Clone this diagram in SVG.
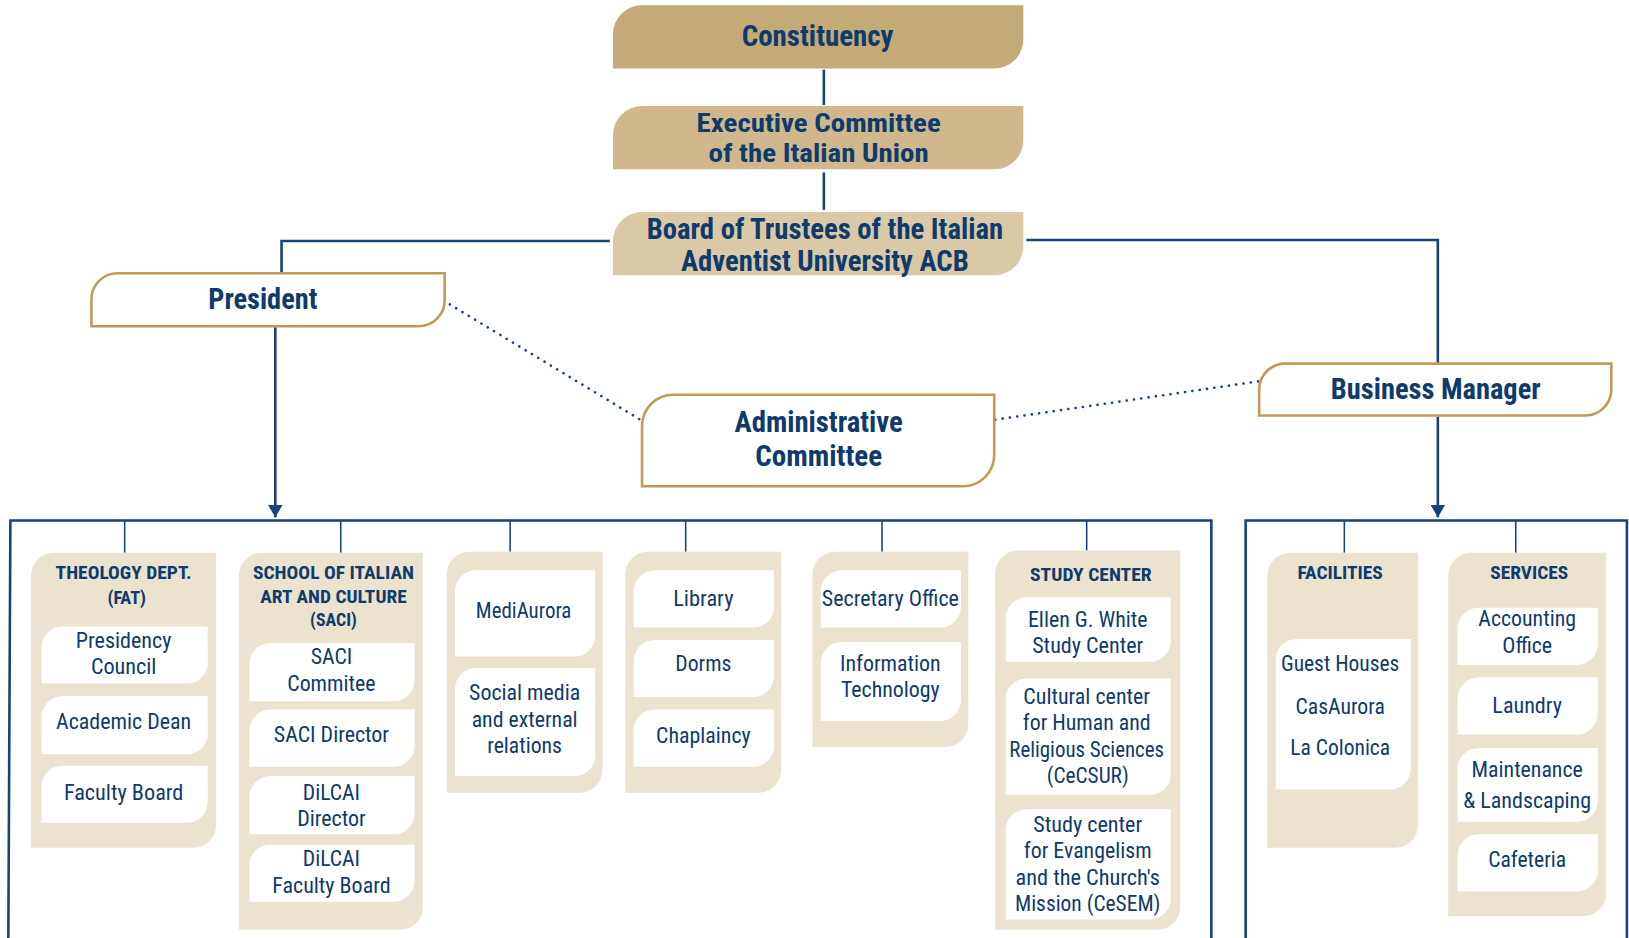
<svg xmlns="http://www.w3.org/2000/svg" width="1629" height="938" viewBox="0 0 1629 938">
<defs>
<style>
.t{font-family:"Roboto Condensed",Roboto,"DejaVu Sans Condensed",sans-serif;fill:#0f3a6c;text-anchor:middle}
.big{font-size:28px;font-weight:700}
.mid{font-size:25px;font-weight:700}
.hd{font-size:18px;font-weight:700}
.it{font-size:21px;font-weight:400}
.c1{fill:#c4aa76}.c2{fill:#cfb88b}.c3{fill:#d9c9a6}
.ob{fill:#fff;stroke:#c29a52;stroke-width:2.5}
.pn{fill:#ebe2d0}
.wb{fill:#fff}
.ln{fill:none;stroke:#17427f;stroke-width:2.5}
.tk{fill:none;stroke:#17427f;stroke-width:1.5}
.dt{fill:none;stroke:#17427f;stroke-width:2.5;stroke-dasharray:0.1 7;stroke-linecap:round}
</style>
<marker id="ar" viewBox="0 0 12 14" refX="12" refY="7" markerWidth="12" markerHeight="14" markerUnits="userSpaceOnUse" orient="auto">
<path d="M0 0 L12 7 L0 14 Z" fill="#17427f"/>
</marker>
</defs>
<rect width="1629" height="938" fill="#fff"/>
<g transform="scale(1.0389)">
<g id="connectors">
<path class="ln" d="M793 67 V101" stroke-width="3"/>
<path class="ln" d="M793 166 V202" stroke-width="3"/>
<path class="ln" d="M587 232 H271 V263"/>
<path class="ln" d="M988 231 H1384 V350"/>
<path class="ln" d="M265 315 V498" marker-end="url(#ar)"/>
<path class="ln" d="M1384 401 V498" marker-end="url(#ar)"/>
<path class="dt" d="M433 293 L618 405"/>
<path class="dt" d="M958 404 L1212 367"/>
<path class="ln" d="M8 905 L10 501 H1166 V905" stroke-width="2"/>
<path class="ln" d="M1199 905 V501 H1566 V905" stroke-width="2"/>
<path class="tk" d="M120 501 V532 M328 501 V532 M491 501 V531 M660 501 V531 M849 501 V531 M1046 501 V530 M1294 501 V532 M1459 501 V532"/>
</g>
<g id="constituency">
<path class="c1" d="M590 66 V33 A28 28 0 0 1 618 5 H985 V38 A28 28 0 0 1 957 66 Z"/>
<text class="t big" x="787" y="44" textLength="146" lengthAdjust="spacingAndGlyphs">Constituency</text>
</g>
<g id="executive-committee">
<path class="c2" d="M590 163 V130 A28 28 0 0 1 618 102 H985 V135 A28 28 0 0 1 957 163 Z"/>
<text class="t mid" x="788" y="127" textLength="235" lengthAdjust="spacingAndGlyphs">Executive Committee</text>
<text class="t mid" x="788" y="156" textLength="212" lengthAdjust="spacingAndGlyphs">of the Italian Union</text>
</g>
<g id="board">
<path class="c3" d="M590 265 V232 A28 28 0 0 1 618 204 H985 V237 A28 28 0 0 1 957 265 Z"/>
<text class="t big" x="794" y="230" textLength="343" lengthAdjust="spacingAndGlyphs">Board of Trustees of the Italian</text>
<text class="t big" x="794" y="261" textLength="277" lengthAdjust="spacingAndGlyphs">Adventist University ACB</text>
</g>
<g id="president">
<path class="ob" d="M88 314 V288 A25 25 0 0 1 113 263 H428 V289 A25 25 0 0 1 403 314 Z"/>
<text class="t big" x="253" y="297" textLength="105" lengthAdjust="spacingAndGlyphs">President</text>
</g>
<g id="administrative-committee">
<path class="ob" d="M618 468 V410 A30 30 0 0 1 648 380 H957 V438 A30 30 0 0 1 927 468 Z"/>
<text class="t big" x="788" y="416" textLength="162" lengthAdjust="spacingAndGlyphs">Administrative</text>
<text class="t big" x="788" y="449" textLength="122" lengthAdjust="spacingAndGlyphs">Committee</text>
</g>
<g id="business-manager">
<path class="ob" d="M1212 400 V375 A25 25 0 0 1 1237 350 H1551 V375 A25 25 0 0 1 1526 400 Z"/>
<text class="t big" x="1382" y="384" textLength="202" lengthAdjust="spacingAndGlyphs">Business Manager</text>
</g>
<g id="theology">
<path class="pn" d="M30 816 V554 A22 22 0 0 1 52 532 H208 V794 A22 22 0 0 1 186 816 Z"/>
<text class="t hd" x="119" y="557" textLength="131" lengthAdjust="spacingAndGlyphs">THEOLOGY DEPT.</text>
<text class="t hd" x="122" y="581" textLength="37" lengthAdjust="spacingAndGlyphs">(FAT)</text>
<path class="wb" d="M40 658 V623 A20 20 0 0 1 60 603 H200 V638 A20 20 0 0 1 180 658 Z"/>
<text class="t it" x="119" y="624" textLength="92" lengthAdjust="spacingAndGlyphs">Presidency</text>
<text class="t it" x="119" y="649" textLength="63" lengthAdjust="spacingAndGlyphs">Council</text>
<path class="wb" d="M40 726 V690 A20 20 0 0 1 60 670 H200 V706 A20 20 0 0 1 180 726 Z"/>
<text class="t it" x="119" y="702" textLength="130" lengthAdjust="spacingAndGlyphs">Academic Dean</text>
<path class="wb" d="M40 792 V757 A20 20 0 0 1 60 737 H200 V772 A20 20 0 0 1 180 792 Z"/>
<text class="t it" x="119" y="770" textLength="115" lengthAdjust="spacingAndGlyphs">Faculty Board</text>
</g>
<g id="saci">
<path class="pn" d="M230 895 V554 A22 22 0 0 1 252 532 H407 V873 A22 22 0 0 1 385 895 Z"/>
<text class="t hd" x="321" y="557" textLength="155" lengthAdjust="spacingAndGlyphs">SCHOOL OF ITALIAN</text>
<text class="t hd" x="321" y="580" textLength="141" lengthAdjust="spacingAndGlyphs">ART AND CULTURE</text>
<text class="t hd" x="321" y="603" textLength="45" lengthAdjust="spacingAndGlyphs">(SACI)</text>
<path class="wb" d="M240 675 V639 A20 20 0 0 1 260 619 H399 V655 A20 20 0 0 1 379 675 Z"/>
<text class="t it" x="319" y="639" textLength="40" lengthAdjust="spacingAndGlyphs">SACI</text>
<text class="t it" x="319" y="665" textLength="85" lengthAdjust="spacingAndGlyphs">Commitee</text>
<path class="wb" d="M240 738 V703 A20 20 0 0 1 260 683 H399 V718 A20 20 0 0 1 379 738 Z"/>
<text class="t it" x="319" y="714" textLength="111" lengthAdjust="spacingAndGlyphs">SACI Director</text>
<path class="wb" d="M240 803 V767 A20 20 0 0 1 260 747 H399 V783 A20 20 0 0 1 379 803 Z"/>
<text class="t it" x="319" y="770" textLength="55" lengthAdjust="spacingAndGlyphs">DiLCAI</text>
<text class="t it" x="319" y="795" textLength="66" lengthAdjust="spacingAndGlyphs">Director</text>
<path class="wb" d="M240 868 V833 A20 20 0 0 1 260 813 H399 V848 A20 20 0 0 1 379 868 Z"/>
<text class="t it" x="319" y="834" textLength="55" lengthAdjust="spacingAndGlyphs">DiLCAI</text>
<text class="t it" x="319" y="860" textLength="114" lengthAdjust="spacingAndGlyphs">Faculty Board</text>
</g>
<g id="media">
<path class="pn" d="M430 763 V553 A22 22 0 0 1 452 531 H580 V741 A22 22 0 0 1 558 763 Z"/>
<path class="wb" d="M438 632 V569 A20 20 0 0 1 458 549 H573 V612 A20 20 0 0 1 553 632 Z"/>
<text class="t it" x="504" y="595" textLength="92" lengthAdjust="spacingAndGlyphs">MediAurora</text>
<path class="wb" d="M438 747 V663 A20 20 0 0 1 458 643 H573 V727 A20 20 0 0 1 553 747 Z"/>
<text class="t it" x="505" y="674" textLength="107" lengthAdjust="spacingAndGlyphs">Social media</text>
<text class="t it" x="505" y="700" textLength="102" lengthAdjust="spacingAndGlyphs">and external</text>
<text class="t it" x="505" y="725" textLength="72" lengthAdjust="spacingAndGlyphs">relations</text>
</g>
<g id="library">
<path class="pn" d="M602 763 V553 A22 22 0 0 1 624 531 H752 V741 A22 22 0 0 1 730 763 Z"/>
<path class="wb" d="M610 604 V569 A20 20 0 0 1 630 549 H745 V584 A20 20 0 0 1 725 604 Z"/>
<text class="t it" x="677" y="583" textLength="58" lengthAdjust="spacingAndGlyphs">Library</text>
<path class="wb" d="M610 671 V636 A20 20 0 0 1 630 616 H745 V651 A20 20 0 0 1 725 671 Z"/>
<text class="t it" x="677" y="646" textLength="54" lengthAdjust="spacingAndGlyphs">Dorms</text>
<path class="wb" d="M610 738 V703 A20 20 0 0 1 630 683 H745 V718 A20 20 0 0 1 725 738 Z"/>
<text class="t it" x="677" y="715" textLength="91" lengthAdjust="spacingAndGlyphs">Chaplaincy</text>
</g>
<g id="secretary">
<path class="pn" d="M782 719 V553 A22 22 0 0 1 804 531 H932 V697 A22 22 0 0 1 910 719 Z"/>
<path class="wb" d="M790 604 V569 A20 20 0 0 1 810 549 H925 V584 A20 20 0 0 1 905 604 Z"/>
<text class="t it" x="857" y="583" textLength="132" lengthAdjust="spacingAndGlyphs">Secretary Office</text>
<path class="wb" d="M790 694 V638 A20 20 0 0 1 810 618 H925 V674 A20 20 0 0 1 905 694 Z"/>
<text class="t it" x="857" y="646" textLength="97" lengthAdjust="spacingAndGlyphs">Information</text>
<text class="t it" x="857" y="671" textLength="95" lengthAdjust="spacingAndGlyphs">Technology</text>
</g>
<g id="study-center">
<path class="pn" d="M958 895 V552 A22 22 0 0 1 980 530 H1136 V873 A22 22 0 0 1 1114 895 Z"/>
<text class="t hd" x="1050" y="559" textLength="117" lengthAdjust="spacingAndGlyphs">STUDY CENTER</text>
<path class="wb" d="M968 637 V595 A20 20 0 0 1 988 575 H1127 V617 A20 20 0 0 1 1107 637 Z"/>
<text class="t it" x="1047" y="604" textLength="115" lengthAdjust="spacingAndGlyphs">Ellen G. White</text>
<text class="t it" x="1047" y="629" textLength="107" lengthAdjust="spacingAndGlyphs">Study Center</text>
<path class="wb" d="M968 765 V673 A20 20 0 0 1 988 653 H1127 V745 A20 20 0 0 1 1107 765 Z"/>
<text class="t it" x="1046" y="678" textLength="122" lengthAdjust="spacingAndGlyphs">Cultural center</text>
<text class="t it" x="1046" y="703" textLength="123" lengthAdjust="spacingAndGlyphs">for Human and</text>
<text class="t it" x="1046" y="729" textLength="149" lengthAdjust="spacingAndGlyphs">Religious Sciences</text>
<text class="t it" x="1047" y="754" textLength="79" lengthAdjust="spacingAndGlyphs">(CeCSUR)</text>
<path class="wb" d="M968 885 V799 A20 20 0 0 1 988 779 H1127 V865 A20 20 0 0 1 1107 885 Z"/>
<text class="t it" x="1047" y="801" textLength="105" lengthAdjust="spacingAndGlyphs">Study center</text>
<text class="t it" x="1047" y="826" textLength="123" lengthAdjust="spacingAndGlyphs">for Evangelism</text>
<text class="t it" x="1047" y="852" textLength="139" lengthAdjust="spacingAndGlyphs">and the Church's</text>
<text class="t it" x="1047" y="877" textLength="140" lengthAdjust="spacingAndGlyphs">Mission (CeSEM)</text>
</g>
<g id="facilities">
<path class="pn" d="M1220 816 V554 A22 22 0 0 1 1242 532 H1365 V794 A22 22 0 0 1 1343 816 Z"/>
<text class="t hd" x="1290" y="557" textLength="82" lengthAdjust="spacingAndGlyphs">FACILITIES</text>
<path class="wb" d="M1228 760 V635 A20 20 0 0 1 1248 615 H1358 V740 A20 20 0 0 1 1338 760 Z"/>
<text class="t it" x="1290" y="646" textLength="114" lengthAdjust="spacingAndGlyphs">Guest Houses</text>
<text class="t it" x="1290" y="687" textLength="86" lengthAdjust="spacingAndGlyphs">CasAurora</text>
<text class="t it" x="1290" y="727" textLength="96" lengthAdjust="spacingAndGlyphs">La Colonica</text>
</g>
<g id="services">
<path class="pn" d="M1394 882 V554 A22 22 0 0 1 1416 532 H1546 V860 A22 22 0 0 1 1524 882 Z"/>
<text class="t hd" x="1472" y="557" textLength="75" lengthAdjust="spacingAndGlyphs">SERVICES</text>
<path class="wb" d="M1403 640 V605 A20 20 0 0 1 1423 585 H1538 V620 A20 20 0 0 1 1518 640 Z"/>
<text class="t it" x="1470" y="603" textLength="94" lengthAdjust="spacingAndGlyphs">Accounting</text>
<text class="t it" x="1470" y="629" textLength="48" lengthAdjust="spacingAndGlyphs">Office</text>
<path class="wb" d="M1403 707 V672 A20 20 0 0 1 1423 652 H1538 V687 A20 20 0 0 1 1518 707 Z"/>
<text class="t it" x="1470" y="686" textLength="67" lengthAdjust="spacingAndGlyphs">Laundry</text>
<path class="wb" d="M1403 791 V740 A20 20 0 0 1 1423 720 H1538 V771 A20 20 0 0 1 1518 791 Z"/>
<text class="t it" x="1470" y="748" textLength="107" lengthAdjust="spacingAndGlyphs">Maintenance</text>
<text class="t it" x="1470" y="778" textLength="123" lengthAdjust="spacingAndGlyphs">&amp; Landscaping</text>
<path class="wb" d="M1403 858 V823 A20 20 0 0 1 1423 803 H1538 V838 A20 20 0 0 1 1518 858 Z"/>
<text class="t it" x="1470" y="835" textLength="75" lengthAdjust="spacingAndGlyphs">Cafeteria</text>
</g>
</g>
</svg>
